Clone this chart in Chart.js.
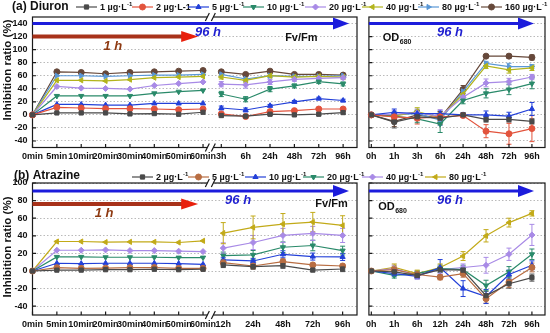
<!DOCTYPE html>
<html>
<head>
<meta charset="utf-8">
<script src="https://cdn.jsdelivr.net/npm/chart.js@4.4.1/dist/chart.umd.min.js"></script>
<style>
  html, body { margin: 0; padding: 0; background: #fff; }
  #wrap { position: relative; width: 550px; height: 333px; overflow: hidden; }
  #wrap canvas { position: absolute; }
</style>
</head>
<body>
<div id="wrap">
  <canvas id="aL" width="362" height="166" style="left:0;top:0"></canvas>
  <canvas id="aR" width="188" height="166" style="left:362px;top:0"></canvas>
  <canvas id="bL" width="362" height="163" style="left:0;top:170px"></canvas>
  <canvas id="bR" width="188" height="163" style="left:362px;top:170px"></canvas>
  <canvas id="over" width="550" height="333" style="left:0;top:0;pointer-events:none"></canvas>
</div>
<script>
// ---- data ----
const minLabels = ['0min', '5min', '10min', '20min', '30min', '40min', '50min', '60min'];
const diuronHLabels = ['3h', '6h', '24h', '48h', '72h', '96h'];
const diuronOdLabels = ['0h', '1h', '3h', '6h', '24h', '48h', '72h', '96h'];
const atrazineHLabels = ['12h', '24h', '48h', '72h', '96h'];
const atrazineOdLabels = ['0h', '1h', '6h', '12h', '24h', '48h', '72h', '96h'];

const diuronConc = ['1', '2', '5', '10', '20', '40', '80', '160'];
const atrazineConc = ['2', '5', '10', '20', '40', '80'];

// Fv/Fm, minutes (0min..60min), one row per concentration
const diuronMin = [
  [0, 3, 3, 3, 1.5, 2, 1, 4],
  [0, 11.5, 10.5, 9.5, 9.5, 9, 8, 9],
  [0, 16, 16, 15, 15, 17.5, 17.5, 17.5],
  [0, 29, 29, 29, 29, 33, 35.5, 37.5],
  [0, 43.5, 41, 40.5, 39.5, 45, 48, 50.5],
  [0, 53, 53, 52, 54, 57, 58, 59],
  [0, 60, 60, 59, 60, 61, 61, 62],
  [0, 66, 65, 63, 65, 66, 67, 68]
];
// Fv/Fm, hours
const diuronH = [
  [-1, -2, 1, 0, 1, 3.5],
  [1.5, -2.5, 5, 6.5, 9, 9],
  [10.5, 7.5, 14, 20, 25, 22],
  [32, 24, 39.5, 44.5, 51, 47.5],
  [47, 46, 50.5, 54.5, 56, 57],
  [58, 53, 60, 58, 59, 58],
  [62, 55, 60, 59, 59, 60],
  [66, 62, 67, 62, 62, 61]
];
const diuronHErr = [
  [2, 2, 2, 2, 2, 2],
  [2, 2, 2, 2, 2, 2],
  [3, 3, 2, 2, 2, 2],
  [4, 4, 4, 3, 3, 3],
  [4, 5, 4, 3, 3, 3],
  [3, 3, 3, 3, 3, 3],
  [3, 3, 3, 3, 3, 3],
  [2, 2, 2, 2, 2, 2]
];
// OD680
const diuronOd = [
  [0, -11, -3, -5, 0, -7, -7, -10],
  [0, -3, -5, -3, -1, -25, -29, -21],
  [0, 4, 2, 2, 0, 0, -2, 9],
  [0, -2, -6, -14, 22, 33, 39, 48],
  [0, 1, 3, -2, 27, 49, 51, 58],
  [0, -2, 5, -4, 32, 75, 69, 72],
  [0, 0, 2, -8, 36, 79, 74, 74],
  [0, -10, 0, -5, 39, 90, 90, 88]
];
const diuronOdErr = [
  [0, 9, 6, 5, 3, 4, 4, 4],
  [0, 5, 9, 5, 3, 10, 16, 20],
  [0, 5, 4, 4, 3, 6, 6, 10],
  [0, 5, 6, 13, 5, 7, 8, 8],
  [0, 6, 6, 10, 5, 6, 5, 4],
  [0, 5, 6, 8, 6, 4, 5, 4],
  [0, 5, 5, 8, 6, 3, 5, 3],
  [0, 8, 7, 10, 6, 2, 3, 4]
];

const atrazineMin = [
  [0, 1, 1, 1.5, 1.5, 2, 1.5, 2],
  [0, 3.8, 3, 3.2, 3.8, 4, 3, 3],
  [0, 8.8, 8.4, 8.8, 8.8, 8.8, 8.4, 7.6],
  [0, 16, 16, 15.6, 15.6, 15.6, 15.2, 15.2],
  [0, 23.6, 23.6, 24, 23.2, 23.2, 22.5, 22.1],
  [0, 33.5, 33.5, 32.8, 33.1, 33.1, 32.4, 34.3]
];
const atrazineH = [
  [6.9, 5, 6.1, 1.1, 2.3],
  [9.5, 5.7, 10.7, 6.9, 5.7],
  [12.6, 11.4, 19, 16.4, 16],
  [17.5, 18.3, 27, 29, 23.2],
  [26, 32.4, 40.4, 42.7, 40.4],
  [43, 49.5, 53.3, 55.6, 51.8]
];
const atrazineHErr = [
  [3, 3, 3, 2, 3],
  [3, 3, 3, 2, 2],
  [3, 3, 4, 4, 4],
  [4, 5, 6, 6, 5],
  [6, 8, 8, 8, 8],
  [12, 13, 12, 11, 11]
];
const atrazineOd = [
  [0, -1, -5, 1.5, 1, -28, -14.5, -7.5],
  [0, 1.5, -4, -7, -3, -31.5, -12.5, 4],
  [0, -3, -6, 4, -20, -29, -4, 6.5],
  [0, -5, -3, 2.7, 1.5, -16.5, -1, 19],
  [0, 2.7, -5, 1.5, 4, 6.5, 19, 41],
  [0, 4, -3, 4, 17, 40, 55, 65.5]
];
const atrazineOdErr = [
  [0, 3, 3, 3, 3, 5, 5, 4],
  [0, 4, 4, 3, 4, 5, 6, 5],
  [0, 3, 3, 9, 9, 8, 5, 5],
  [0, 3, 3, 4, 5, 6, 6, 6],
  [0, 4, 4, 4, 4, 9, 7, 12],
  [0, 4, 4, 4, 5, 7, 5, 3]
];

// ---- styles ----
const diuronColors = ['#4a4a4a', '#e2533c', '#2340d8', '#2a8a6a', '#a88ae6', '#b3b41c', '#5a98d6', '#66483a'];
const diuronShapes = [['rect', 0], ['circle', 0], ['triangle', 0], ['triangle', 180], ['rectRot', 0], ['triangle', 270], ['triangle', 90], ['circle', 0]];
const atrazineColors = ['#4a4a4a', '#b86d42', '#2340d8', '#2a8a6a', '#a88ae6', '#c2aa18'];
const atrazineShapes = [['rect', 0], ['circle', 0], ['triangle', 0], ['triangle', 180], ['rectRot', 0], ['triangle', 270]];

const FONT = 'Liberation Sans, Arial, sans-serif';
Chart.defaults.font.family = FONT;

// x layout of the broken axis (minutes at 0..7, hours after the break)
const minPos = minLabels.map((_, i) => i);
const diuronHPos = diuronHLabels.map((_, j) => 7.75 + j);
const atrazineHPos = atrazineHLabels.map((_, j) => 7.83 + j * 1.225);
const odPos = diuronOdLabels.map((_, i) => i);

// ---- plugins ----
const errorBars = {
  id: 'errorBars',
  beforeDatasetsDraw(chart) {
    const { ctx } = chart;
    const ys = chart.scales.y;
    chart.data.datasets.forEach((ds, i) => {
      if (!ds.errors) return;
      const meta = chart.getDatasetMeta(i);
      meta.data.forEach((pt, k) => {
        const e = ds.errors[k];
        const raw = ds.data[k];
        if (!e || !raw || raw.y == null) return;
        const x = pt.x;
        const y1 = ys.getPixelForValue(raw.y + e);
        const y2 = ys.getPixelForValue(raw.y - e);
        ctx.save();
        ctx.strokeStyle = ds.borderColor;
        ctx.lineWidth = 1;
        ctx.beginPath();
        ctx.moveTo(x, y1); ctx.lineTo(x, y2);
        ctx.moveTo(x - 2.5, y1); ctx.lineTo(x + 2.5, y1);
        ctx.moveTo(x - 2.5, y2); ctx.lineTo(x + 2.5, y2);
        ctx.stroke();
        ctx.restore();
      });
    });
  }
};

const frame = {
  id: 'frame',
  beforeDatasetsDraw(chart, args, o) {
    const { ctx, chartArea: a, scales } = chart;
    ctx.save();
    ctx.strokeStyle = '#1a1a1a';
    ctx.lineWidth = 1.2;
    ctx.strokeRect(a.left, a.top, a.right - a.left, a.bottom - a.top);
    ctx.beginPath();
    scales.y.ticks.forEach(t => {
      const y = scales.y.getPixelForValue(t.value);
      ctx.moveTo(a.left, y); ctx.lineTo(a.left + 3.5, y);
    });
    scales.x.ticks.forEach(t => {
      const x = scales.x.getPixelForValue(t.value);
      ctx.moveTo(x, a.bottom); ctx.lineTo(x, a.bottom - 3.5);
    });
    ctx.stroke();
    if (o.breakAt != null) {
      const x = scales.x.getPixelForValue(o.breakAt);
      [a.top, a.bottom].forEach(y => {
        ctx.fillStyle = '#fff';
        ctx.fillRect(x - 3, y - 2, 6, 4);
        ctx.beginPath();
        ctx.moveTo(x - 5, y + 4); ctx.lineTo(x - 1, y - 4);
        ctx.moveTo(x + 1, y + 4); ctx.lineTo(x + 5, y - 4);
        ctx.stroke();
      });
    }
    ctx.restore();
  }
};

function arrow(ctx, x0, x1, y, color, headColor, w, hl, hw) {
  ctx.save();
  ctx.strokeStyle = color;
  ctx.lineWidth = w;
  ctx.beginPath(); ctx.moveTo(x0, y); ctx.lineTo(x1 - hl + 1, y); ctx.stroke();
  ctx.fillStyle = headColor;
  ctx.beginPath(); ctx.moveTo(x1, y); ctx.lineTo(x1 - hl, y - hw); ctx.lineTo(x1 - hl, y + hw); ctx.closePath(); ctx.fill();
  ctx.restore();
}

const notes = {
  id: 'notes',
  afterDraw(chart, args, o) {
    const { ctx, chartArea: a, scales } = chart;
    (o.arrows || []).forEach(ar => {
      const y = scales.y.getPixelForValue(ar.y);
      const x0 = ar.x0 === 'left' ? a.left : scales.x.getPixelForValue(ar.x0);
      const x1 = ar.x1 === 'right' ? a.right - ar.inset : scales.x.getPixelForValue(ar.x1);
      arrow(ctx, x0, x1, y, ar.color, ar.head || ar.color, ar.width, ar.hl, ar.hw);
    });
    (o.texts || []).forEach(t => {
      const x = scales.x.getPixelForValue(t.x);
      const y = scales.y.getPixelForValue(t.y);
      ctx.save();
      ctx.fillStyle = t.color || '#111';
      ctx.font = t.font;
      ctx.textAlign = t.align || 'left';
      ctx.textBaseline = 'middle';
      ctx.fillText(t.text, x, y);
      if (t.sub) {
        const w = ctx.measureText(t.text).width;
        ctx.font = 'bold 7px ' + FONT;
        ctx.textAlign = 'left';
        ctx.fillText(t.sub, x + w + 0.5, y + 4);
      }
      ctx.restore();
    });
  }
};

// ---- builders ----
function brokenSeries(minVals, hVals, hPos) {
  const pts = minVals.map((v, i) => ({ x: minPos[i], y: v }));
  pts.push({ x: 7.4, y: null });
  hVals.forEach((v, j) => pts.push({ x: hPos[j], y: v }));
  return pts;
}

function makeDatasets(rows, colors, shapes, toData, errRows, errPrefix) {
  return rows.map((row, i) => ({
    data: toData(row),
    errors: errRows ? errPrefix.concat(errRows[i]) : null,
    borderColor: colors[i],
    backgroundColor: colors[i],
    pointBackgroundColor: colors[i],
    pointBorderColor: colors[i],
    pointStyle: shapes[i][0],
    pointRotation: shapes[i][1],
    pointRadius: 3,
    pointBorderWidth: 1,
    borderWidth: 1.2,
    tension: 0,
    spanGaps: false,
    clip: false
  }));
}

function makeChart(id, cfg) {
  const tickFont = { size: 9, weight: 'bold', family: FONT };
  return new Chart(document.getElementById(id), {
    type: 'line',
    data: { datasets: cfg.datasets },
    options: {
      responsive: false,
      animation: false,
      events: [],
      layout: { padding: cfg.padding },
      plugins: {
        legend: { display: false },
        tooltip: { enabled: false },
        frame: { breakAt: cfg.breakAt },
        notes: cfg.notes
      },
      scales: {
        x: {
          type: 'linear',
          min: cfg.xMin,
          max: cfg.xMax,
          afterBuildTicks: s => { s.ticks = cfg.xTicks.map(v => ({ value: v })); },
          afterFit: s => { s.height = cfg.xHeight; },
          grid: { display: false, drawTicks: false },
          border: { display: false },
          ticks: {
            autoSkip: false, maxRotation: 0, minRotation: 0, padding: 4,
            color: '#111', font: tickFont,
            callback: (v, i) => cfg.xLabels[i]
          }
        },
        y: {
          min: -50,
          max: cfg.yMax,
          afterBuildTicks: s => { s.ticks = cfg.yTicks.map(v => ({ value: v })); },
          afterFit: s => { s.width = cfg.yWidth; },
          grid: { color: '#a8a8a8', lineWidth: 0.8, drawTicks: false },
          border: { display: false, dash: [1.5, 2] },
          ticks: {
            display: cfg.yLabels, padding: 5, color: '#111', font: tickFont,
            callback: v => String(v)
          }
        }
      }
    },
    plugins: [errorBars, frame, notes]
  });
}

const blue = '#1c1cdc';
const bigItalic = 'italic bold 13px ' + FONT;
const boldLabel = 'bold 11px ' + FONT;
const ticksA = [-40, -20, 0, 20, 40, 60, 80, 100, 120, 140];
const ticksB = [-40, -20, 0, 20, 40, 60, 80, 100];

// (a) Diuron, Fv/Fm
makeChart('aL', {
  datasets: makeDatasets(diuronMin.map((r, i) => [r, diuronH[i]]), diuronColors, diuronShapes,
    p => brokenSeries(p[0], p[1], diuronHPos), diuronHErr, new Array(9).fill(0)),
  padding: { left: 0, top: 17, right: 0.5, bottom: 0 },
  xMin: 0, xMax: 13.32, xTicks: minPos.concat(diuronHPos), xLabels: minLabels.concat(diuronHLabels),
  xHeight: 18.5, yMax: 150, yTicks: ticksA, yWidth: 32.5, yLabels: true, breakAt: 7.3,
  notes: {
    arrows: [
      { y: 140, x0: 'left', x1: 'right', inset: 8, color: blue, width: 3, hl: 16, hw: 6 },
      { y: 120, x0: 'left', x1: 6.8, color: '#a8321a', head: '#e8200c', width: 4, hl: 17, hw: 5.5 }
    ],
    texts: [
      { x: 7.2, y: 127, text: '96 h', color: '#1f1fd0', font: bigItalic, align: 'center' },
      { x: 3.3, y: 105, text: '1 h', color: '#8e3a12', font: bigItalic, align: 'center' },
      { x: 11.7, y: 118, text: 'Fv/Fm', font: boldLabel, align: 'right' }
    ]
  }
});

// (a) Diuron, OD680
makeChart('aR', {
  datasets: makeDatasets(diuronOd, diuronColors, diuronShapes,
    r => r.map((v, i) => ({ x: odPos[i], y: v })), diuronOdErr, []),
  padding: { left: 0.5, top: 17, right: 4, bottom: 0 },
  xMin: -0.105, xMax: 7.57, xTicks: odPos, xLabels: diuronOdLabels,
  xHeight: 18.5, yMax: 150, yTicks: ticksA, yWidth: 0, yLabels: false,
  notes: {
    arrows: [{ y: 140, x0: 'left', x1: 'right', inset: 11, color: blue, width: 3, hl: 16, hw: 6 }],
    texts: [
      { x: 3.43, y: 127, text: '96 h', color: '#1f1fd0', font: bigItalic, align: 'center' },
      { x: 0.5, y: 118, text: 'OD', sub: '680', font: boldLabel, align: 'left' }
    ]
  }
});

// (b) Atrazine, Fv/Fm
makeChart('bL', {
  datasets: makeDatasets(atrazineMin.map((r, i) => [r, atrazineH[i]]), atrazineColors, atrazineShapes,
    p => brokenSeries(p[0], p[1], atrazineHPos), atrazineHErr, new Array(9).fill(0)),
  padding: { left: 0, top: 13, right: 0.5, bottom: 0 },
  xMin: 0, xMax: 13.32, xTicks: minPos.concat(atrazineHPos), xLabels: minLabels.concat(atrazineHLabels),
  xHeight: 18, yMax: 100, yTicks: ticksB, yWidth: 32.5, yLabels: true, breakAt: 7.3,
  notes: {
    arrows: [
      { y: 91, x0: 'left', x1: 'right', inset: 8, color: blue, width: 3, hl: 16, hw: 6 },
      { y: 76, x0: 'left', x1: 6.8, color: '#a8321a', head: '#e8200c', width: 4, hl: 17, hw: 5.5 }
    ],
    texts: [
      { x: 8.44, y: 80.5, text: '96 h', color: '#1f1fd0', font: bigItalic, align: 'center' },
      { x: 2.94, y: 65, text: '1 h', color: '#8e3a12', font: bigItalic, align: 'center' },
      { x: 12.94, y: 76, text: 'Fv/Fm', font: boldLabel, align: 'right' }
    ]
  }
});

// (b) Atrazine, OD680
makeChart('bR', {
  datasets: makeDatasets(atrazineOd, atrazineColors, atrazineShapes,
    r => r.map((v, i) => ({ x: odPos[i], y: v })), atrazineOdErr, []),
  padding: { left: 0.5, top: 13, right: 4, bottom: 0 },
  xMin: -0.105, xMax: 7.57, xTicks: odPos, xLabels: atrazineOdLabels,
  xHeight: 18, yMax: 100, yTicks: ticksB, yWidth: 0, yLabels: false,
  notes: {
    arrows: [{ y: 91, x0: 'left', x1: 'right', inset: 11, color: blue, width: 3, hl: 16, hw: 6 }],
    texts: [
      { x: 3.43, y: 80.5, text: '96 h', color: '#1f1fd0', font: bigItalic, align: 'center' },
      { x: 0.3, y: 72.5, text: 'OD', sub: '680', font: boldLabel, align: 'left' }
    ]
  }
});

// ---- legends, panel titles, axis titles ----
const over = document.getElementById('over').getContext('2d');
const diuronLegendX = [76, 132, 188, 243, 305, 362, 418, 481];
const atrazineLegendX = [132, 188, 245, 303, 362, 425];

function marker(ctx, shape, x, y, color) {
  ctx.fillStyle = color;
  ctx.strokeStyle = color;
  ctx.lineWidth = 1;
  Chart.helpers.drawPoint(ctx, { pointStyle: shape[0], rotation: shape[1], radius: 3, borderWidth: 1 }, x, y);
}

function legend(ctx, conc, colors, shapes, xs, y, noSup) {
  conc.forEach((c, i) => {
    const x = xs[i];
    ctx.save();
    ctx.strokeStyle = colors[i];
    ctx.lineWidth = 1.2;
    ctx.beginPath(); ctx.moveTo(x, y); ctx.lineTo(x + 21, y); ctx.stroke();
    marker(ctx, shapes[i], x + 10.5, y, colors[i]);
    ctx.fillStyle = '#111';
    ctx.textBaseline = 'middle';
    ctx.textAlign = 'left';
    ctx.font = 'bold 9px ' + FONT;
    const main = c + ' \u00b5g\u00b7L';
    let tx = x + 24;
    ctx.fillText(main, tx, y + 0.5);
    tx += ctx.measureText(main).width;
    if (noSup === i) {
      ctx.fillText('-1', tx, y + 0.5);
    } else {
      ctx.font = 'bold 6px ' + FONT;
      ctx.fillText('-1', tx + 0.3, y - 2.5);
    }
    ctx.restore();
  });
}

legend(over, diuronConc, diuronColors, diuronShapes, diuronLegendX, 7, 1);
legend(over, atrazineConc, atrazineColors, atrazineShapes, atrazineLegendX, 177, -1);

over.fillStyle = '#111';
over.textBaseline = 'middle';
over.font = 'bold 12px ' + FONT;
over.fillText('(a) Diuron', 12, 7);
over.fillText('(b) Atrazine', 14, 176);

function yTitle(ctx, cy) {
  ctx.save();
  ctx.translate(8, cy);
  ctx.rotate(-Math.PI / 2);
  ctx.textAlign = 'center';
  ctx.textBaseline = 'middle';
  ctx.font = 'bold 11.5px ' + FONT;
  ctx.fillStyle = '#111';
  ctx.fillText('Inhibition ratio (%)', 0, 0);
  ctx.restore();
}
yTitle(over, 70);
yTitle(over, 247);
</script>
</body>
</html>
